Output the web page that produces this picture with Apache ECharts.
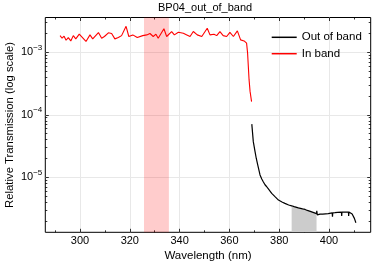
<!DOCTYPE html>
<html><head><meta charset="utf-8">
<script src="https://cdn.jsdelivr.net/npm/echarts@6/dist/echarts.min.js"></script>
<style>html,body{margin:0;padding:0;background:#fff}#c{width:374px;height:265px}</style>
</head><body><div id="c"></div>
<script>
// ---- data ----
const inBandWl = [292.0,292.8,293.6,294.4,295.3,296.3,297.3,298.3,299.7,301.0,302.4,304.0,305.1,307.4,308.7,309.8,311.4,312.7,314.0,315.4,316.7,318.5,319.6,321.2,323.0,325.2,326.8,328.1,329.4,330.5,331.4,332.1,333.7,334.8,335.5,336.8,337.9,339.5,341.5,342.9,344.2,345.5,347.1,348.9,351.1,352.2,353.8,354.9,356.2,357.5,358.9,360.2,361.6,363.2,364.5,365.9,366.3,366.9,367.3,367.6,367.9,368.3,368.9];
const inBandT = [1.85e-3,1.68e-3,1.81e-3,1.56e-3,1.72e-3,1.52e-3,1.85e-3,1.64e-3,1.95e-3,1.72e-3,1.49e-3,1.90e-3,1.64e-3,2.07e-3,1.68e-3,1.79e-3,2.05e-3,2.00e-3,1.64e-3,1.72e-3,1.85e-3,2.61e-3,1.79e-3,1.90e-3,1.72e-3,1.85e-3,1.90e-3,2.00e-3,1.79e-3,1.95e-3,1.68e-3,1.72e-3,2.38e-3,1.79e-3,1.72e-3,2.15e-3,1.90e-3,2.09e-3,2.02e-3,1.90e-3,1.79e-3,2.15e-3,1.90e-3,1.79e-3,2.43e-3,1.90e-3,1.95e-3,1.85e-3,2.15e-3,1.85e-3,1.79e-3,2.09e-3,1.79e-3,2.20e-3,1.58e-3,1.52e-3,1.50e-3,1.40e-3,9.8e-4,5.96e-4,3.65e-4,2.37e-4,1.63e-4];
const outBandWl = [369.0,369.6,370.3,370.8,371.4,372.3,373.0,373.6,374.3,375.0,375.8,376.4,377.0,377.6,378.3,379.0,379.7,380.5,381.3,382.3,383.0,383.8,385.0,386.0,386.8,387.7,388.5,389.4,390.4,391.3,392.2,393.0,393.6,394.4,395.0,395.1,395.3,395.8,396.4,397.5,398.6,399.7,400.5,401.3,401.4,401.5,402.4,403.5,405.0,405.1,405.2,406.5,407.8,407.9,408.0,408.6,409.3,410.2,410.8];
const outBandT = [7.1e-5,3.72e-5,2.58e-5,2.0e-5,1.57e-5,1.09e-5,9.4e-6,8.5e-6,7.6e-6,7.06e-6,6.4e-6,6.0e-6,5.53e-6,5.4e-6,4.9e-6,4.6e-6,4.32e-6,4.15e-6,4.0e-6,3.83e-6,3.75e-6,3.6e-6,3.5e-6,3.4e-6,3.35e-6,3.25e-6,3.18e-6,3.12e-6,3.06e-6,2.95e-6,2.88e-6,2.8e-6,2.75e-6,2.7e-6,2.62e-6,2.9e-6,2.5e-6,2.55e-6,2.58e-6,2.58e-6,2.6e-6,2.62e-6,2.65e-6,2.7e-6,2.35e-6,2.7e-6,2.72e-6,2.75e-6,2.78e-6,2.4e-6,2.78e-6,2.78e-6,2.78e-6,2.4e-6,2.78e-6,2.75e-6,2.58e-6,2.2e-6,1.87e-6];
const xMajorTicks = [300,320,340,360,380,400];
const xMinorTicks = [290,310,330,350,370,390,410];
const yMajorExp = [-5,-4,-3];
const inBandShade = [325.7, 335.7];
const outBandShade = [385, 395];

// ---- layout ----
const X_MIN = 286.06, X_MAX = 416.75;
const Y_MIN = -5.88, Y_MAX = -2.443;
const FONT = "'Liberation Sans', Arial, Helvetica, sans-serif";

const yMinorTicks = [];
for (let n = -6; n <= -3; n++) for (let k = 2; k <= 9; k++) yMinorTicks.push(Math.log10(k) + n);

const toPairs = (wl, t) => wl.map((w, i) => [w, Math.log10(t[i])]);
const inPairs = toPairs(inBandWl, inBandT);
const outPairs = toPairs(outBandWl, outBandT);
const fillPairs = outPairs.filter(p => p[0] >= outBandShade[0] && p[0] <= outBandShade[1]);

const tickStyle = {color: '#000', width: 0.8};
function xAx(pos, ticks, len, major) {
  return {
    type: 'value', min: X_MIN, max: X_MAX, position: pos,
    axisLine: {show: false},
    axisTick: {show: true, inside: true, length: len, customValues: ticks, lineStyle: tickStyle},
    axisLabel: (major && pos === 'bottom') ? {show: true, customValues: ticks, margin: 3, color: '#000', fontSize: 11, fontFamily: FONT} : {show: false},
    splitLine: {show: major && pos === 'bottom', lineStyle: {color: '#e8e8e8', width: 1}},
    name: (major && pos === 'bottom') ? 'Wavelength (nm)' : '',
    nameLocation: 'middle', nameGap: 17.5, nameMoveOverlap: false,
    nameTextStyle: {color: '#000', fontSize: 11.5, fontFamily: FONT}
  };
}
function yAx(pos, ticks, len, major) {
  return {
    type: 'value', min: Y_MIN, max: Y_MAX, position: pos,
    axisLine: {show: false},
    axisTick: {show: true, inside: true, length: len, customValues: ticks, lineStyle: tickStyle},
    axisLabel: (major && pos === 'left') ? {
      show: true, customValues: ticks, margin: 3, color: '#000', fontFamily: FONT,
      formatter: v => '{b|10}{s|\u2212' + (-Math.round(v)) + '}',
      rich: {
        b: {fontSize: 11, fontFamily: FONT, color: '#000', lineHeight: 18, verticalAlign: 'middle'},
        s: {fontSize: 8, fontFamily: FONT, color: '#000', verticalAlign: 'top'}
      }
    } : {show: false},
    splitLine: {show: major && pos === 'left', lineStyle: {color: '#e8e8e8', width: 1}},
    name: (major && pos === 'left') ? 'Relative Transmission (log scale)' : '',
    nameLocation: 'middle', nameGap: 30, nameMoveOverlap: false,
    nameTextStyle: {color: '#000', fontSize: 11.3, fontFamily: FONT}
  };
}

const chart = echarts.init(document.getElementById('c'), null, {renderer: 'canvas'});
chart.setOption({
  animation: false,
  backgroundColor: '#fff',
  title: {text: 'BP04_out_of_band', left: 158, top: 2, padding: 0,
    textStyle: {fontSize: 11, fontWeight: 'normal', color: '#000', fontFamily: FONT}},
  grid: {left: 45.3, right: 3.3, top: 17.5, bottom: 32.7, show: true, borderColor: '#000', borderWidth: 1,
    backgroundColor: 'transparent', containLabel: false, outerBoundsMode: 'none'},
  legend: {
    data: ['Out of band', 'In band'], orient: 'vertical', left: 266.7, top: 25.3,
    icon: 'rect', itemWidth: 25, itemHeight: 1.5, itemGap: 2.4, itemTextGap: 7.5,
    textStyle: {fontSize: 11.5, fontFamily: FONT, color: '#000', lineHeight: 14}
  },
  xAxis: [xAx('bottom', xMajorTicks, 3.5, true), xAx('bottom', xMinorTicks, 2, false),
          xAx('top', xMajorTicks, 3.5, false), xAx('top', xMinorTicks, 2, false)],
  yAxis: [yAx('left', yMajorExp, 3.5, true), yAx('left', yMinorTicks, 2, false),
          yAx('right', yMajorExp, 3.5, false), yAx('right', yMinorTicks, 2, false)],
  series: [
    {
      name: 'fill', type: 'line', data: fillPairs, symbol: 'none', silent: true, z: 1,
      lineStyle: {width: 0}, areaStyle: {color: '#cccccc', opacity: 1, origin: 'start'},
      markArea: {silent: true, itemStyle: {color: 'rgba(255,0,0,0.2)'},
        data: [[{xAxis: inBandShade[0]}, {xAxis: inBandShade[1]}]]}
    },
    {name: 'Out of band', type: 'line', data: outPairs, symbol: 'none', z: 3,
      color: '#000', lineStyle: {color: '#000', width: 1.2}},
    {name: 'In band', type: 'line', data: inPairs, symbol: 'none', z: 3,
      color: '#ff0000', lineStyle: {color: '#ff0000', width: 1.1}}
  ]
});
</script></body></html>
